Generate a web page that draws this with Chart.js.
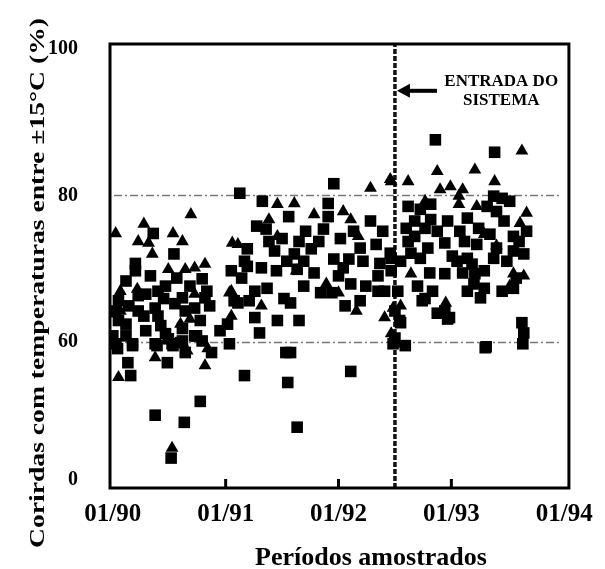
<!DOCTYPE html>
<html>
<head>
<meta charset="utf-8">
<script src="https://cdn.jsdelivr.net/npm/chart.js@4"></script>
<style>
  html, body { margin: 0; padding: 0; background: #fff; }
  canvas { display: block; }
</style>
</head>
<body>
<canvas id="chart" width="605" height="569"></canvas>
<script>
// x = months since 01/90, y = % of runs within ±15°C
const squareX = [4.3, 6.5, 2.4, 2.4, 6.8, 9.5, 2.7, 3.5, 4.8, 5.4, 7.4, 9.8, 10.0, 12.9, 0.6, 0.3, 2.7, 4.5, 6.6, 7.7,
  8.7, 3.3, 4.8, 0.6, 1.4, 7.4, 12.2, 0.0, 0.3, 2.1, 4.5, 5.6, 6.3, 7.4, 8.7, 9.5, 7.7, 10.5, 12.4, 1.6,
  5.8, 0.5, 2.1, 4.7, 5.9, 6.4, 7.2, 8.9, 15.6, 18.4, 18.9, 1.9, 14.0, 18.6, 9.3, 4.5, 7.6, 19.6, 6.2, 25.3,
  31.1, 39.7, 43.6, 13.5, 23.5, 15.9, 22.9, 27.4, 16.3, 15.3, 18.0, 14.3, 20.5, 22.4, 24.2, 28.0, 29.5, 17.2, 19.3, 21.1,
  18.5, 26.3, 25.1, 23.5, 20.3, 14.3, 15.8, 17.4, 19.6, 21.4, 24.5, 28.4, 29.6, 13.7, 16.4, 18.2, 18.9, 25.3, 26.9, 22.1,
  13.3, 15.1, 17.5, 19.8, 34.3, 40.6, 40.5, 41.4, 42.2, 31.4, 32.7, 33.8, 39.8, 40.8, 32.1, 33.8, 35.6, 37.7, 41.6, 31.2,
  33.2, 34.5, 36.9, 38.9, 40.1, 42.6, 43.2, 32.1, 33.5, 35.3, 37.4, 38.7, 40.8, 42.6, 43.7, 31.7, 32.7, 29.6, 30.6, 40.5,
  33.7, 35.3, 37.2, 38.5, 39.5, 38.2, 37.7, 42.9, 38.4, 39.5, 39.1, 32.9, 42.6, 34.5, 35.6, 30.5, 43.5, 43.7, 30.0, 39.6,
  33.2, 35.3, 35.8, 30.6, 29.8, 23.3, 24.7, 28.2,
  18.7, 19.8, 21.9, 22.9, 25.6, 26.6, 28.2, 20.3, 15.1, 14.0, 16.6, 12.6, 14.5, 24.0, 26.3, 28.9, 28.7,
  1.4, 4.0, 5.6, 8.2, 10.3, 1.4, 3.5, 5.1, 9.3, 11.4, 1.7,
  31.4, 36.1, 36.6, 41.9, 32.4, 34.0, 41.4, 37.7, 44.0, 30.3, 30.0];
const squareY = [74.8, 72.0, 70.7, 69.7, 68.7, 68.6, 66.3, 66.5, 66.9, 65.9, 66.0, 66.0, 66.9, 65.6, 65.6, 64.2, 64.2, 64.6, 65.2, 64.2,
  64.6, 63.5, 63.5, 62.9, 62.4, 61.8, 62.4, 60.8, 59.1, 59.1, 59.1, 61.1, 59.1, 60.1, 60.8, 60.1, 55.3, 55.3, 59.1, 50.9,
  50.9, 57.0, 58.3, 58.3, 60.4, 58.3, 59.6, 60.8, 61.2, 55.3, 55.3, 45.3, 45.3, 42.3, 34.1, 28.1, 25.0, 22.9, 9.5, 47.1,
  58.3, 57.8, 59.1, 80.3, 81.6, 79.2, 78.9, 76.5, 75.4, 75.8, 74.1, 72.7, 75.1, 75.4, 74.1, 73.3, 72.1, 72.4, 72.0, 72.7,
  71.0, 72.8, 71.3, 71.3, 71.0, 70.3, 70.1, 69.7, 69.9, 69.4, 70.1, 70.7, 69.7, 68.7, 67.3, 65.9, 65.3, 67.9, 67.6, 66.7,
  65.3, 63.3, 62.9, 62.9, 87.6, 85.9, 79.9, 79.6, 79.2, 78.5, 78.1, 78.8, 78.5, 77.8, 76.5, 76.7, 76.5, 76.9, 76.5, 75.5,
  75.5, 75.1, 75.1, 75.5, 74.7, 74.4, 73.7, 74.4, 72.8, 73.5, 73.7, 73.3, 72.8, 72.4, 72.0, 72.1, 71.4, 71.4, 71.0, 71.4,
  69.4, 69.3, 69.4, 69.3, 69.7, 70.6, 71.4, 68.7, 67.9, 67.3, 66.0, 65.6, 67.3, 63.9, 63.1, 62.9, 62.6, 61.2, 60.5, 57.4,
  65.9, 64.2, 63.3, 62.6, 59.1, 66.7, 64.9, 66.9,
  77.1, 73.7, 73.7, 77.1, 75.1, 71.0, 69.0, 67.6, 66.9, 71.0, 73.7, 69.7, 65.6, 69.0, 65.6, 66.9, 75.1,
  68.3, 69.0, 67.6, 67.6, 64.9, 60.8, 61.5, 62.2, 62.9, 61.5, 64.9,
  73.7, 71.7, 71.0, 71.0, 67.6, 66.9, 66.9, 66.9, 75.1, 66.9, 64.2];

const triangleX = [8.3, 0.3, 3.3, 2.7, 3.8, 6.4, 7.4, 4.2, 12.7, 5.9, 7.7, 8.7, 9.8, 0.8, 2.6, 8.7, 12.6, 0.1, 0.8, 7.2,
  8.2, 12.6, 4.5, 9.8, 7.9, 10.1, 0.6, 6.3, 30.3, 27.4, 29.5, 17.5, 19.3, 24.5, 25.3, 16.6, 21.4, 17.5, 13.3, 26.1,
  19.5, 22.7, 24.0, 25.9, 28.9, 15.8, 12.4, 43.5, 34.5, 38.5, 40.6, 29.6, 31.4, 34.8, 35.9, 37.2, 36.8, 33.2, 36.8, 38.7,
  44.0, 43.3, 39.5, 40.8, 31.7, 42.6, 43.7, 42.2, 35.4, 30.6, 29.8, 29.6];
const triangleY = [77.4, 74.8, 76.1, 73.7, 73.5, 74.8, 73.7, 72.0, 73.5, 69.9, 69.9, 70.1, 70.6, 66.9, 67.2, 66.5, 66.9, 63.8, 64.2, 62.4,
  63.1, 63.5, 53.1, 49.6, 56.1, 57.0, 44.5, 13.8, 59.1, 81.0, 82.2, 78.8, 78.9, 77.8, 76.7, 76.7, 77.4, 74.4, 73.3, 74.4,
  69.7, 67.9, 66.7, 64.2, 63.3, 64.9, 66.7, 86.1, 83.3, 83.5, 81.9, 81.9, 81.9, 80.8, 81.2, 80.8, 79.9, 79.2, 78.8, 78.5,
  77.6, 76.2, 74.7, 73.1, 69.3, 69.3, 69.0, 67.6, 65.3, 64.9, 64.6, 61.1];

const xTickMonths = [0, 12, 24, 36, 48];
const xTickLabels = ['01/90', '01/91', '01/92', '01/93', '01/94'];
const innerTickMonths = [12, 24, 36];
const yTickValues = [0, 60, 80, 100];
const yTickLabels = ['0', '60', '80', '100'];
const gridValues = [60, 80];
const systemStartMonth = 30;

// the value axis is broken below 60: the 0-60 band is squeezed
const BREAK = 60;
const SQUEEZE = 0.315;
const toAxis = v => v >= BREAK ? v : BREAK + (v - BREAK) * SQUEEZE;

const Y_MIN = 40, Y_MAX = 100.7;
const SERIF = '"Liberation Serif", "Times New Roman", serif';

const decorations = {
  id: 'decorations',
  beforeDatasetsDraw(chart) {
    const { ctx, chartArea: a, scales: { y } } = chart;
    ctx.save();
    ctx.strokeStyle = '#777';
    ctx.lineWidth = 1.5;
    ctx.setLineDash([8, 3, 2, 3]);
    gridValues.forEach(v => {
      const py = Math.round(y.getPixelForValue(toAxis(v))) + 0.5;
      ctx.beginPath();
      ctx.moveTo(a.left + 4, py);
      ctx.lineTo(a.right - 10, py);
      ctx.stroke();
    });
    ctx.restore();
  },
  afterDraw(chart) {
    const { ctx, chartArea: a, scales: { x, y } } = chart;
    ctx.save();

    // box round the plot
    ctx.strokeStyle = '#000';
    ctx.lineWidth = 3;
    ctx.strokeRect(a.left, a.top, a.right - a.left, a.bottom - a.top);

    // tick marks pointing into the plot
    innerTickMonths.forEach(m => {
      const px = x.getPixelForValue(m);
      ctx.beginPath();
      ctx.moveTo(px, a.bottom);
      ctx.lineTo(px, a.bottom - 9);
      ctx.stroke();
    });

    // arrow pointing at the system start line
    const tipX = x.getPixelForValue(systemStartMonth) + 2;
    const arrowY = y.getPixelForValue(94.3);
    ctx.fillStyle = '#000';
    ctx.fillRect(tipX + 10, arrowY - 2, 30, 4);
    ctx.beginPath();
    ctx.moveTo(tipX, arrowY);
    ctx.lineTo(tipX + 13, arrowY - 7);
    ctx.lineTo(tipX + 13, arrowY + 7);
    ctx.closePath();
    ctx.fill();

    ctx.font = 'bold 17px ' + SERIF;
    ctx.textAlign = 'center';
    ctx.textBaseline = 'middle';
    const labelX = x.getPixelForValue(41.3);
    ctx.fillText('ENTRADA DO', labelX, y.getPixelForValue(95.6));
    ctx.fillText('SISTEMA', labelX, y.getPixelForValue(92.9));

    // axis titles
    ctx.font = 'bold 26px ' + SERIF;
    ctx.textBaseline = 'alphabetic';
    ctx.fillText('Períodos amostrados', 371, 565);

    const yTitle = 'Corirdas com temperaturas entre ±15°C (%)';
    ctx.font = 'bold 21px ' + SERIF;
    const w = ctx.measureText(yTitle).width;
    ctx.translate(39, 283);
    ctx.rotate(-Math.PI / 2);
    ctx.scale(530 / w, 1);
    ctx.textBaseline = 'middle';
    ctx.fillText(yTitle, 0, 0);
    ctx.restore();
  }
};

new Chart(document.getElementById('chart'), {
  type: 'scatter',
  data: {
    datasets: [
      {
        label: 'quadrados',
        data: squareX.map((m, i) => ({ x: m, y: toAxis(squareY[i]) })),
        pointStyle: 'rect',
        pointRadius: 8.2,
        backgroundColor: '#000',
        borderWidth: 0
      },
      {
        label: 'triângulos',
        data: triangleX.map((m, i) => ({ x: m, y: toAxis(triangleY[i]) })),
        pointStyle: 'triangle',
        pointRadius: 7.4,
        backgroundColor: '#000',
        borderWidth: 0
      },
      {
        type: 'line',
        label: 'entrada do sistema',
        data: [{ x: systemStartMonth, y: Y_MIN }, { x: systemStartMonth, y: Y_MAX }],
        borderColor: '#111',
        borderWidth: 3.5,
        borderDash: [5, 2],
        pointRadius: 0,
        fill: false
      }
    ]
  },
  options: {
    responsive: false,
    animation: false,
    layout: { padding: { top: 42, right: 31, left: 0, bottom: 0 } },
    plugins: { legend: { display: false }, tooltip: { enabled: false } },
    scales: {
      x: {
        type: 'linear',
        min: -0.3,
        max: 48.5,
        grid: { display: false, drawTicks: false },
        border: { display: false },
        afterBuildTicks: s => { s.ticks = xTickMonths.map(v => ({ value: v })); },
        afterFit: s => { s.height = 81; },
        ticks: {
          autoSkip: false,
          maxRotation: 0,
          padding: 12,
          color: '#000',
          font: { family: SERIF, size: 25, weight: 'bold' },
          callback: (v, i) => xTickLabels[i]
        }
      },
      y: {
        type: 'linear',
        min: Y_MIN,
        max: Y_MAX,
        grid: { display: false, drawTicks: false },
        border: { display: false },
        afterBuildTicks: s => { s.ticks = yTickValues.map(v => ({ value: toAxis(v) })); },
        afterFit: s => { s.width = 110; },
        ticks: {
          padding: 32,
          color: '#000',
          font: { family: SERIF, size: 20, weight: 'bold' },
          callback: (v, i) => yTickLabels[i]
        }
      }
    }
  },
  plugins: [decorations]
});
</script>
</body>
</html>
